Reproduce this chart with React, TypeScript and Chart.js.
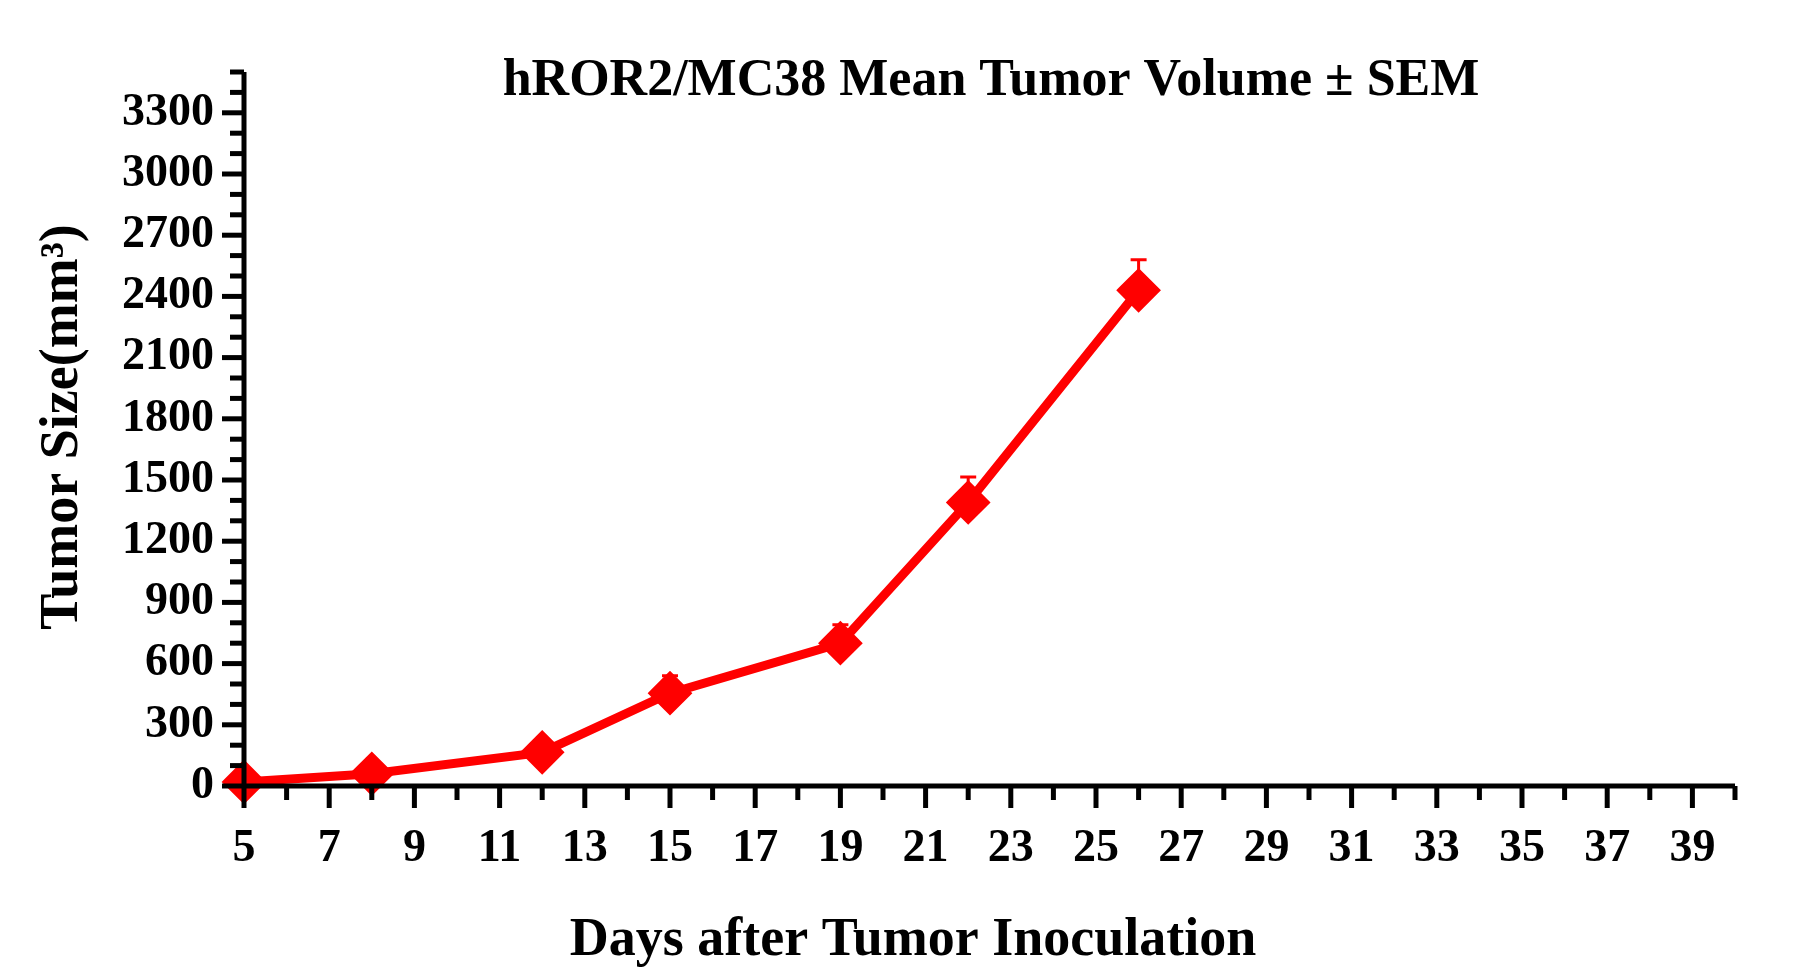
import React, { useEffect, useRef } from "react";
import { Chart, registerables } from "chart.js";
Chart.register(...registerables);

const days = [5, 8, 12, 15, 19, 22, 26];
const meanVolume = [20, 60, 165, 455, 700, 1390, 2430];
const sem = [12, 15, 20, 85, 90, 125, 150];
const titleText = "hROR2/MC38 Mean Tumor Volume \u00B1 SEM";
const xTitle = "Days after Tumor Inoculation";
const yTitle = "Tumor Size(mm\u00B3)";

const FONT = "'Liberation Serif', 'Times New Roman', serif";

export default function App() {
  const ref = useRef<HTMLCanvasElement>(null);
  useEffect(() => {
    document.body.style.margin = "0";
    const ticksPlugin = {
      id: "customAxes",
      afterDatasetsDraw(chart: any) {
        const ctx = chart.ctx;
        const xs = chart.scales.x, ys = chart.scales.y;
        const a = chart.chartArea;
        ctx.save();
        ctx.strokeStyle = "#ff0000";
        ctx.lineWidth = 3;
        days.forEach((d, i) => {
          const x = xs.getPixelForValue(d);
          const y0 = ys.getPixelForValue(meanVolume[i]);
          const y1 = ys.getPixelForValue(meanVolume[i] + sem[i]);
          ctx.beginPath();
          ctx.moveTo(x, y0); ctx.lineTo(x, y1);
          ctx.moveTo(x - 8, y1); ctx.lineTo(x + 8, y1);
          ctx.stroke();
        });
        ctx.strokeStyle = "#000";
        ctx.lineWidth = 5;
        ctx.beginPath();
        ctx.moveTo(a.left, a.top); ctx.lineTo(a.left, a.bottom);
        ctx.moveTo(a.left, a.bottom); ctx.lineTo(a.right, a.bottom);
        ctx.stroke();
        for (let v = xs.min; v <= xs.max; v++) {
          const x = xs.getPixelForValue(v);
          const major = v % 2 === 1;
          ctx.beginPath();
          ctx.moveTo(x, a.bottom);
          ctx.lineTo(x, a.bottom + (major ? 22 : 14));
          ctx.stroke();
        }
        for (let v = ys.min; v <= ys.max; v += 100) {
          const y = ys.getPixelForValue(v);
          const major = v % 300 === 0;
          ctx.beginPath();
          ctx.moveTo(a.left, y);
          ctx.lineTo(a.left - (major ? 22 : 14), y);
          ctx.stroke();
        }
        ctx.fillStyle = "#000";
        ctx.textAlign = "center";
        ctx.textBaseline = "middle";
        ctx.font = `bold 52px ${FONT}`;
        ctx.fillText(titleText, 991, 82);
        ctx.font = `bold 54px ${FONT}`;
        ctx.fillText(xTitle, 913, 941);
        ctx.save();
        ctx.translate(63, 427);
        ctx.rotate(-Math.PI / 2);
        ctx.fillText(yTitle, 0, 0);
        ctx.restore();
        ctx.restore();
      },
    };
    const chart = new Chart(ref.current!, {
      type: "line",
      data: {
        datasets: [
          {
            data: days.map((d, i) => ({ x: d, y: meanVolume[i] })),
            borderColor: "#ff0000",
            backgroundColor: "#ff0000",
            borderWidth: 9,
            pointStyle: "rectRot",
            pointRadius: 16,
            pointHoverRadius: 16,
            clip: false as any,
          },
        ],
      },
      options: {
        animation: false,
        responsive: false,
        events: [],
        layout: { padding: { top: 72, right: 67, left: 0, bottom: 0 } },
        plugins: { legend: { display: false }, tooltip: { enabled: false } },
        scales: {
          x: {
            type: "linear",
            min: 5,
            max: 40,
            grid: { display: false, drawTicks: false },
            border: { display: false },
            afterFit: (s: any) => { s.height = 192; },
            ticks: {
              stepSize: 1,
              autoSkip: false,
              maxRotation: 0,
              padding: 36,
              color: "#000",
              font: { family: FONT, size: 46, weight: "bold" },
              callback: (v: any) => (v % 2 === 1 ? String(v) : ""),
            },
          },
          y: {
            min: 0,
            max: 3500,
            grid: { display: false, drawTicks: false },
            border: { display: false },
            afterFit: (s: any) => { s.width = 244; },
            ticks: {
              stepSize: 100,
              autoSkip: false,
              padding: 30,
              color: "#000",
              font: { family: FONT, size: 46, weight: "bold" },
              callback: (v: any) => (v % 300 === 0 && v <= 3300 ? String(v) : ""),
            },
          },
        },
      },
      plugins: [ticksPlugin],
    });
    return () => chart.destroy();
  }, []);
  return <canvas ref={ref} width={1802} height={978} style={{ display: "block" }} />;
}
